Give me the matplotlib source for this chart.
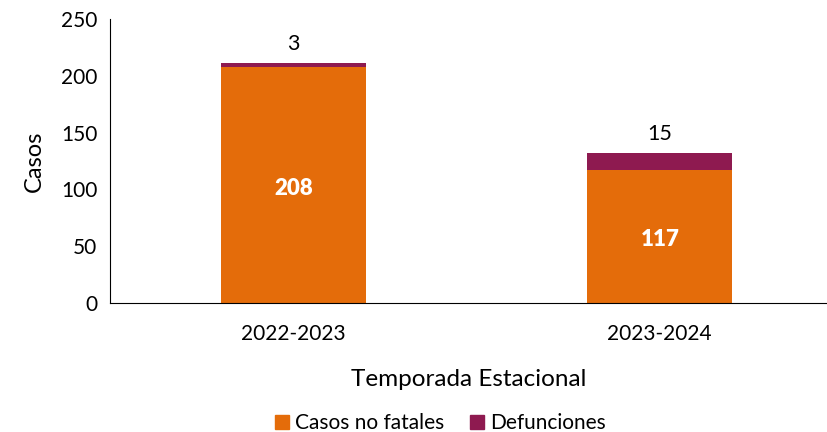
import matplotlib
matplotlib.use('Agg')
import matplotlib.pyplot as plt
from matplotlib.patches import Patch

temporadas = ['2022-2023', '2023-2024']
no_fatales = [208, 117]
defunciones = [3, 15]

ORANGE = '#E46C0A'
PURPLE = '#8E1A50'

plt.rcParams['font.family'] = ['Lato', 'DejaVu Sans']

fig = plt.figure(figsize=(8.28, 4.32), dpi=100)
ax = fig.add_axes([0.1329, 0.2986, 0.8671, 0.6574])

x = range(len(temporadas))
ax.bar(x, no_fatales, width=0.396, color=ORANGE)
ax.bar(x, defunciones, width=0.396, bottom=no_fatales, color=PURPLE)

for i in x:
    ax.text(i, no_fatales[i] / 2 - 3, str(no_fatales[i]), ha='center', va='center',
            color='white', fontsize=16, fontweight='heavy')
    ax.text(i, no_fatales[i] + defunciones[i] + 8, str(defunciones[i]),
            ha='center', va='bottom', fontsize=15.5)

ax.set_xlim(-0.5, 1.459)
ax.set_ylim(0, 250)
ax.set_yticks(range(0, 251, 50))
ax.set_xticks(list(x))
ax.set_xticklabels(temporadas)
ax.tick_params(axis='both', labelsize=15, length=0)
ax.tick_params(axis='y', pad=9)
ax.tick_params(axis='x', pad=15)

ax.spines['top'].set_visible(False)
ax.spines['right'].set_visible(False)
ax.spines['left'].set_color('black')
ax.spines['bottom'].set_color('black')

ax.set_ylabel('Casos', fontsize=17, labelpad=12)
ax.set_xlabel('Temporada Estacional', fontsize=17.5, labelpad=18)

handles = [Patch(color=ORANGE, label='Casos no fatales'),
           Patch(color=PURPLE, label='Defunciones')]
fig.legend(handles=handles, loc='center', bbox_to_anchor=(0.532, 0.02), ncol=2,
           frameon=False, fontsize=15, handlelength=0.7, handleheight=0.7,
           handletextpad=0.3, columnspacing=1.2)

fig.savefig('out.png', dpi=100)
